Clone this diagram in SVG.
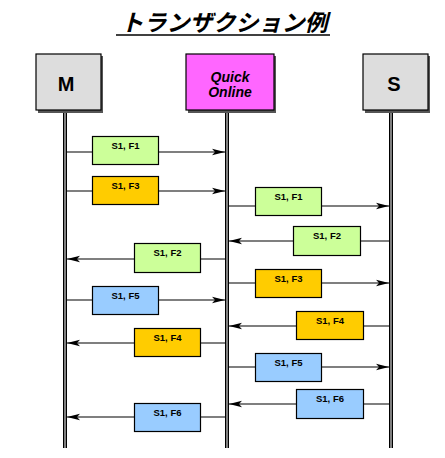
<svg xmlns="http://www.w3.org/2000/svg" width="445" height="458" viewBox="0 0 445 458">
<style>
.node{stroke:#000;stroke-width:1.2}
.shadow{fill:#555}
.lbl{font-family:"Liberation Sans",Arial,sans-serif;font-weight:bold;font-size:9.5px;text-anchor:middle;fill:#000}
.msg{stroke:#000;stroke-width:1.2}
.box{stroke:#000;stroke-width:1.2}
.g{fill:#CCFF99}.o{fill:#FFCC00}.b{fill:#99CCFF}
.life{fill:#000}
.big{font-family:"Liberation Sans",Arial,sans-serif;font-size:20px;font-weight:bold;text-anchor:middle}
</style>
<defs>
<marker id="ah" markerWidth="14" markerHeight="8" refX="13" refY="4" orient="auto" markerUnits="userSpaceOnUse">
<path d="M0,0.8 L13,4 L0,7.2 L3,4 Z" fill="#000"/>
</marker>
</defs>
<rect width="445" height="458" fill="#fff"/>
<g id="title">
<text x="224" y="31" font-family="'Noto Sans CJK JP',sans-serif" font-size="23" font-weight="bold" font-style="italic" text-anchor="middle" fill="#000">トランザクション例</text>
<line x1="116" y1="35" x2="330" y2="35" stroke="#000" stroke-width="1.5"/>
</g>
<g id="lifelines">
<rect class="life" x="63" y="111" width="4" height="337"/><line x1="65" y1="111" x2="65" y2="448" stroke="#fff" stroke-width="1"/>
<rect class="life" x="225" y="111" width="4" height="337"/><line x1="227" y1="111" x2="227" y2="448" stroke="#fff" stroke-width="1"/>
<rect class="life" x="389" y="111" width="4" height="337"/><line x1="391" y1="111" x2="391" y2="448" stroke="#fff" stroke-width="1"/>
</g>
<g id="node-M">
<rect class="shadow" x="38" y="56" width="65" height="57"/>
<rect class="node" x="36" y="54" width="65" height="56" fill="#DDDDDD"/>
<text class="big" x="66" y="91">M</text>
</g>
<g id="node-QO">
<rect class="shadow" x="188" y="56" width="88" height="57"/>
<rect class="node" x="186" y="54" width="88" height="56" fill="#FF66FF"/>
<text font-family="'Liberation Sans',Arial,sans-serif" font-size="14" font-weight="bold" font-style="italic" text-anchor="middle"><tspan x="230" y="82">Quick</tspan><tspan x="230" y="97">Online</tspan></text>
</g>
<g id="node-S">
<rect class="shadow" x="365" y="56" width="65" height="57"/>
<rect class="node" x="363" y="54" width="65" height="56" fill="#DDDDDD"/>
<text class="big" x="394" y="91">S</text>
</g>
<g id="connectors">
<line class="msg" x1="67" y1="152" x2="225" y2="152" marker-end="url(#ah)"/>
<line class="msg" x1="67" y1="191" x2="225" y2="191" marker-end="url(#ah)"/>
<line class="msg" x1="229" y1="206" x2="389" y2="206" marker-end="url(#ah)"/>
<line class="msg" x1="389" y1="241" x2="229" y2="241" marker-end="url(#ah)"/>
<line class="msg" x1="225" y1="259" x2="67" y2="259" marker-end="url(#ah)"/>
<line class="msg" x1="229" y1="283" x2="389" y2="283" marker-end="url(#ah)"/>
<line class="msg" x1="67" y1="300" x2="225" y2="300" marker-end="url(#ah)"/>
<line class="msg" x1="389" y1="326" x2="229" y2="326" marker-end="url(#ah)"/>
<line class="msg" x1="225" y1="343" x2="67" y2="343" marker-end="url(#ah)"/>
<line class="msg" x1="229" y1="367" x2="389" y2="367" marker-end="url(#ah)"/>
<line class="msg" x1="389" y1="404" x2="229" y2="404" marker-end="url(#ah)"/>
<line class="msg" x1="225" y1="417" x2="67" y2="417" marker-end="url(#ah)"/>
</g>
<g id="m1"><rect class="box g" x="92.5" y="136.5" width="66" height="28"/><text class="lbl" x="125.5" y="148.5">S1, F1</text></g>
<g id="m2"><rect class="box o" x="92.5" y="176.5" width="66" height="28"/><text class="lbl" x="125.5" y="188.5">S1, F3</text></g>
<g id="m3"><rect class="box g" x="255.5" y="187.5" width="66" height="28"/><text class="lbl" x="288.5" y="199.5">S1, F1</text></g>
<g id="m4"><rect class="box g" x="293.5" y="226.5" width="67" height="29"/><text class="lbl" x="327" y="238.5">S1, F2</text></g>
<g id="m5"><rect class="box g" x="134.5" y="243.5" width="66" height="29"/><text class="lbl" x="167.5" y="255.5">S1, F2</text></g>
<g id="m6"><rect class="box o" x="255.5" y="269.5" width="66" height="28"/><text class="lbl" x="288.5" y="281.5">S1, F3</text></g>
<g id="m7"><rect class="box b" x="92.5" y="286.5" width="66" height="28"/><text class="lbl" x="125.5" y="298.5">S1, F5</text></g>
<g id="m8"><rect class="box o" x="296.5" y="311.5" width="67" height="28"/><text class="lbl" x="330" y="323.5">S1, F4</text></g>
<g id="m9"><rect class="box o" x="134.5" y="328.5" width="66" height="28"/><text class="lbl" x="167.5" y="340.5">S1, F4</text></g>
<g id="m10"><rect class="box b" x="255.5" y="353.5" width="66" height="28"/><text class="lbl" x="288.5" y="365.5">S1, F5</text></g>
<g id="m11"><rect class="box b" x="296.5" y="389.5" width="67" height="29"/><text class="lbl" x="330" y="401.5">S1, F6</text></g>
<g id="m12"><rect class="box b" x="134.5" y="403.5" width="66" height="28"/><text class="lbl" x="167.5" y="415.5">S1, F6</text></g>
</svg>
